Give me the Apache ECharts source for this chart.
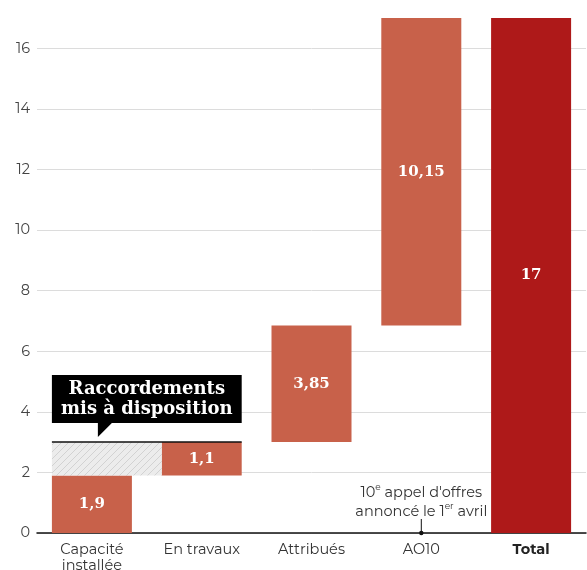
<!DOCTYPE html>
<html><head><meta charset="utf-8">
<script src="https://cdn.jsdelivr.net/npm/echarts@6/dist/echarts.min.js"></script>
<style>html,body{margin:0;padding:0;background:#fff}#c{width:587px;height:570px}</style>
</head><body><div id="c"></div>
<script>
// ---- data ----
const categories = ['Capacité\ninstallée', 'En travaux', 'Attribués', 'AO10', 'Total'];
const values = [1.9, 1.1, 3.85, 10.15, 17];
const valueLabels = ['1,9', '1,1', '3,85', '10,15', '17'];
const yTicks = [0, 2, 4, 6, 8, 10, 12, 14, 16];
const hatchRange = [1.9, 3.0];
const calloutText = 'Raccordements\nmis à disposition';
const noteCategory = 3;

// bases for waterfall (running total, Total starts at 0)
const bases = values.map((v, i) => {
  if (i === values.length - 1) return 0;
  let s = 0; for (let k = 0; k < i; k++) s += values[k]; return Math.round(s * 100) / 100;
});

const BAR = '#c8614a', TOTAL = '#ae1919';
const sansFont = 'Montserrat, "Noto Sans", sans-serif';
const serifFont = '"DejaVu Serif", serif';

// hatch pattern
const pc = document.createElement('canvas');
pc.width = 7; pc.height = 7;
const g = pc.getContext('2d');
g.fillStyle = '#ececec'; g.fillRect(0, 0, 7, 7);
g.strokeStyle = '#d2d2d2'; g.lineWidth = 1;
g.beginPath();
g.moveTo(0, 7); g.lineTo(7, 0);
g.moveTo(-1, 1); g.lineTo(1, -1);
g.moveTo(6, 8); g.lineTo(8, 6);
g.stroke();
const hatchPattern = { image: pc, repeat: 'repeat' };

const chart = echarts.init(document.getElementById('c'));
const HW = 40;

chart.setOption({
  animation: false,
  grid: { left: 37, right: 1, top: 18, bottom: 37, outerBoundsMode: 'none', containLabel: false },
  xAxis: {
    type: 'category',
    data: categories,
    axisLine: { lineStyle: { color: '#111', width: 1.5 } },
    axisTick: { show: false },
    axisLabel: {
      color: '#333', fontSize: 14.5, fontFamily: sansFont, lineHeight: 16, margin: 9,
      interval: 0,
      formatter: v => v === 'Total' ? '{b|Total}' : v,
      rich: { b: { fontWeight: 'bold', fontSize: 14.5, fontFamily: sansFont, color: '#222' } }
    }
  },
  yAxis: {
    type: 'value', min: 0, max: 17, interval: 2,
    axisLine: { show: false }, axisTick: { show: false },
    axisLabel: {
      color: '#444', fontSize: 14.5, fontFamily: sansFont, margin: 7,
      showMaxLabel: false,
      formatter: v => yTicks.indexOf(v) >= 0 ? String(v) : ''
    },
    splitLine: { showMaxLine: false, lineStyle: { color: '#dcdcdc', width: 1 } }
  },
  series: [
    {
      type: 'bar', stack: 'w', barWidth: 80, silent: true,
      itemStyle: { color: 'transparent' },
      data: bases
    },
    {
      type: 'bar', stack: 'w', barWidth: 80,
      data: values.map((v, i) => ({ value: v, itemStyle: { color: i === values.length - 1 ? TOTAL : BAR } })),
      label: {
        show: true, position: 'inside', color: '#fff', fontFamily: serifFont,
        fontWeight: 'bold', fontSize: 15,
        formatter: p => valueLabels[p.dataIndex]
      }
    },
    {
      type: 'custom', z: 5, silent: true,
      data: [[0, hatchRange[0], hatchRange[1]]],
      renderItem: (params, api) => {
        const x0 = api.coord([0, 0])[0];
        const x1 = api.coord([1, 0])[0];
        const yLo = api.coord([0, api.value(1)])[1];
        const yHi = api.coord([0, api.value(2)])[1];
        const left = x0 - HW, right = x1 + HW;
        return {
          type: 'group',
          children: [
            { type: 'rect', shape: { x: left, y: yHi, width: x1 - x0, height: yLo - yHi }, style: { fill: hatchPattern } },
            { type: 'line', shape: { x1: left, y1: yHi, x2: right, y2: yHi }, style: { stroke: '#111', lineWidth: 1.5 } },
            { type: 'rect', shape: { x: left, y: yHi - 67, width: right - left, height: 48 }, style: { fill: '#000' } },
            { type: 'polygon', shape: { points: [[left + 46, yHi - 20], [left + 46, yHi - 5], [left + 61, yHi - 20]] }, style: { fill: '#000' } },
            { type: 'text', x: (left + right) / 2, y: yHi - 43,
              style: { text: calloutText, fill: '#fff', font: 'bold 18px ' + serifFont, align: 'center', verticalAlign: 'middle', lineHeight: 20 } }
          ]
        };
      }
    },
    {
      type: 'custom', z: 5, silent: true,
      data: [[noteCategory, 0]],
      renderItem: (params, api) => {
        const p = api.coord([api.value(0), 0]);
        return {
          type: 'group',
          children: [
            { type: 'line', shape: { x1: p[0], y1: p[1], x2: p[0], y2: p[1] - 14 }, style: { stroke: '#111', lineWidth: 1 } },
            { type: 'circle', shape: { cx: p[0], cy: p[1], r: 2.2 }, style: { fill: '#111' } },
            { type: 'text', x: p[0], y: p[1] - 31,
              style: {
                text: '{n|10}{s|e}{n| appel d\'offres}\n{n|annoncé le 1}{s|er}{n| avril}',
                align: 'center', verticalAlign: 'middle',
                rich: {
                  n: { fontSize: 14.5, fontFamily: sansFont, fill: '#333', lineHeight: 19 },
                  s: { fontSize: 9, fontFamily: sansFont, fill: '#333', lineHeight: 19, verticalAlign: 'top', padding: [0, 0, 6, 0] }
                }
              } }
          ]
        };
      }
    }
  ]
});
</script></body></html>
